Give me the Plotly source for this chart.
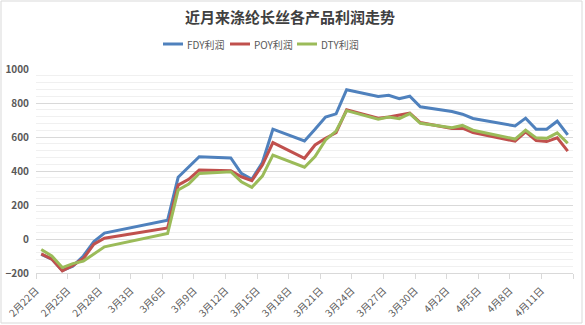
import pandas as pd
import plotly.graph_objects as go

# Trading dates and profits (yuan/ton) for each filament product
DATES = [
    "2021-02-22", "2021-02-23", "2021-02-24", "2021-02-25", "2021-02-26", "2021-02-27",
    "2021-02-28", "2021-03-06", "2021-03-07", "2021-03-08", "2021-03-09", "2021-03-12",
    "2021-03-13", "2021-03-14", "2021-03-15", "2021-03-16", "2021-03-19", "2021-03-20",
    "2021-03-21", "2021-03-22", "2021-03-23", "2021-03-26", "2021-03-27", "2021-03-28",
    "2021-03-29", "2021-03-30", "2021-04-02", "2021-04-03", "2021-04-04", "2021-04-08",
    "2021-04-09", "2021-04-10", "2021-04-11", "2021-04-12", "2021-04-13",
]
FDY = [-90, -118, -185, -160, -100, -15, 35, 111, 363, 425, 484, 477,
       386, 351, 450, 646, 577, 645, 717, 736, 878, 838, 845, 825,
       840, 778, 750, 734, 709, 665, 711, 646, 646, 693, 612]
POY = [-88, -118, -188, -155, -115, -30, 5, 65, 317, 351, 406, 402,
       366, 343, 435, 567, 475, 553, 593, 625, 760, 710, 718, 728,
       740, 685, 650, 652, 626, 575, 630, 579, 573, 595, 517]
DTY = [-62, -100, -168, -145, -130, -88, -46, 32, 288, 323, 386, 396,
       337, 304, 370, 494, 422, 485, 583, 635, 755, 705, 717, 708,
       738, 681, 655, 668, 640, 588, 640, 595, 592, 624, 563]

SERIES_NAMES = ["FDY利润", "POY利润", "DTY利润"]
COLORS = ["#4F81BD", "#C0504D", "#9BBB59"]

TICK_DATES = ["2021-02-22", "2021-02-25", "2021-02-28", "2021-03-03", "2021-03-06",
              "2021-03-09", "2021-03-12", "2021-03-15", "2021-03-18", "2021-03-21",
              "2021-03-24", "2021-03-27", "2021-03-30", "2021-04-02", "2021-04-05",
              "2021-04-08", "2021-04-11", "2021-04-14"]
TICK_LABELS = ["2月22日", "2月25日", "2月28日", "3月3日", "3月6日", "3月9日",
               "3月12日", "3月15日", "3月18日", "3月21日", "3月24日", "3月27日",
               "3月30日", "4月2日", "4月5日", "4月8日", "4月11日", ""]

TITLE = "近月来涤纶长丝各产品利润走势"

W, H = 585, 325
ML, MR, MT, MB = 36, 12, 69, 52
PW, PH = W - ML - MR, H - MT - MB

FONT = "Noto Sans CJK SC"
GREY = "#595959"

# date slots: each day occupies a band, tick marks sit on the band edges
half_day = pd.Timedelta(hours=12)
tickvals = [pd.Timestamp(d) - half_day for d in TICK_DATES]
x_range = [tickvals[0], tickvals[-1]]

fig = go.Figure()
for name, vals, color in zip(SERIES_NAMES, [FDY, POY, DTY], COLORS):
    fig.add_trace(go.Scatter(
        x=pd.to_datetime(DATES), y=vals, mode="lines", name=name,
        line=dict(color=color, width=3), showlegend=False,
    ))


def px_x(x):
    return (x - ML) / PW


def px_y(y):
    return (H - MB - y) / PH


shapes = []
annotations = []

# hand-built legend row
legend_y = 44
legend_x = [163, 230, 297]
for name, color, x0 in zip(SERIES_NAMES, COLORS, legend_x):
    shapes.append(dict(type="line", xref="paper", yref="paper",
                       x0=px_x(x0), x1=px_x(x0 + 20), y0=px_y(legend_y), y1=px_y(legend_y),
                       line=dict(color=color, width=3)))
    annotations.append(dict(xref="paper", yref="paper", x=px_x(x0 + 22), y=px_y(legend_y),
                            text=name, showarrow=False, xanchor="left", yanchor="middle",
                            font=dict(family=FONT, size=10, color=GREY)))

# chart border
shapes.append(dict(type="rect", xref="paper", yref="paper",
                   x0=px_x(1), x1=px_x(582), y0=px_y(323), y1=px_y(1),
                   line=dict(color="#d9d9d9", width=1), layer="below"))

fig.update_layout(
    width=W, height=H,
    margin=dict(l=ML, r=MR, t=MT, b=MB, autoexpand=False),
    paper_bgcolor="white", plot_bgcolor="white",
    title=dict(text=TITLE, x=290 / W, y=1 - 18 / H, xanchor="center", yanchor="middle",
               font=dict(family=FONT, size=15, color="#404040", weight="bold")),
    shapes=shapes, annotations=annotations,
    xaxis=dict(
        type="date", range=x_range, tickvals=tickvals, ticktext=TICK_LABELS,
        tickangle=-45, tickfont=dict(family=FONT, size=10, color=GREY),
        showgrid=False, showline=True, linecolor="#d9d9d9", linewidth=1,
        ticks="outside", ticklen=5, tickcolor="#d9d9d9", zeroline=False,
        ticklabelstandoff=2, automargin=False,
    ),
    yaxis=dict(
        range=[-200, 1000], dtick=200, tick0=0,
        tickfont=dict(family=FONT, size=10, color=GREY, weight="bold"),
        showgrid=True, gridcolor="#d9d9d9", gridwidth=1,
        minor=dict(dtick=40, showgrid=True, gridcolor="#f0f0f0", gridwidth=1),
        zeroline=False, showline=False, ticks="", ticklabelstandoff=6,
        automargin=False,
    ),
)

fig.write_html("out.html")
